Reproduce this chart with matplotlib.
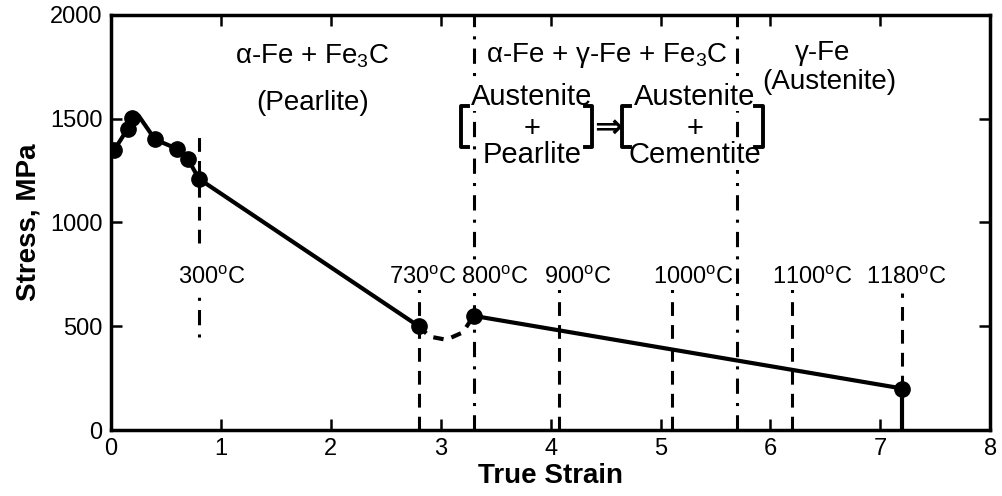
import numpy as np
import matplotlib.pyplot as plt

plt.rcParams['font.family'] = ['Liberation Sans', 'DejaVu Sans']
plt.rcParams['mathtext.fontset'] = 'custom'
plt.rcParams['mathtext.rm'] = 'Liberation Sans'
plt.rcParams['mathtext.it'] = 'Liberation Sans'

# measured points (markers)
strain_pts = [0.03, 0.15, 0.19, 0.40, 0.60, 0.70, 0.80, 2.80, 3.30, 7.20]
stress_pts = [1350, 1450, 1505, 1400, 1355, 1305, 1210, 500, 550, 200]

# solid curve through the low temperature part
strain_low = [0.03, 0.15, 0.20, 0.25, 0.40, 0.60, 0.70, 0.80, 2.80]
stress_low = [1350, 1450, 1505, 1515, 1400, 1355, 1305, 1210, 500]

# dashed dip between 730 and 800 C
strain_dip = [2.80, 2.90, 3.05, 3.20, 3.30]
stress_dip = [500, 450, 435, 470, 550]

# solid curve through the high temperature part
strain_high = [3.30, 7.20]
stress_high = [550, 200]

# temperature labels
temp_labels = ['300$^\\mathrm{o}$C', '730$^\\mathrm{o}$C', '800$^\\mathrm{o}$C', '900$^\\mathrm{o}$C',
               '1000$^\\mathrm{o}$C', '1100$^\\mathrm{o}$C', '1180$^\\mathrm{o}$C']
label_x = [0.92, 2.84, 3.49, 4.25, 5.30, 6.38, 7.24]

fig = plt.figure(figsize=(10.03, 4.96), dpi=100)
ax = fig.add_axes([0.1107, 0.133, 0.8766, 0.837])

lw = 3.0
ax.plot(strain_low, stress_low, color='black', lw=lw, solid_capstyle='round', zorder=3)
ax.plot(strain_dip, stress_dip, color='black', lw=lw, ls=(0, (2.5, 2.0)), zorder=3)
ax.plot(strain_high, stress_high, color='black', lw=lw, zorder=3)
ax.plot(strain_pts, stress_pts, 'o', color='black', ms=11, zorder=4)

dash = (0, (4.5, 3.0))
dashdot = (0, (5, 3, 1, 3))
vc = 'black'
vlw = 2.2
# 300 C
ax.plot([0.8, 0.8], [900, 1440], color=vc, lw=vlw, ls=dash)
ax.plot([0.8, 0.8], [450, 660], color=vc, lw=vlw, ls=(0, (1, 3, 5, 3)))
# 730, 900, 1000, 1100 C
for xv in [2.8, 4.08, 5.1, 6.2]:
    ax.plot([xv, xv], [0, 700], color=vc, lw=vlw, ls=dash)
# 800 C and 5.7 phase boundaries
for xv in [3.3, 5.7]:
    ax.plot([xv, xv], [0, 2000], color=vc, lw=vlw, ls=dashdot)
# 1180 C
ax.plot([7.2, 7.2], [200, 660], color=vc, lw=vlw, ls=dash)
ax.plot([7.2, 7.2], [0, 200], color=vc, lw=lw)

for lx, lab in zip(label_x, temp_labels):
    ax.text(lx, 733, lab, fontsize=17, ha='center', va='center',
            bbox=dict(facecolor='white', edgecolor='none', pad=0.5), zorder=5)

# phase region labels
ax.text(1.83, 1800, 'α-Fe + Fe$_\\mathrm{3}$C', fontsize=20, ha='center', va='center', zorder=5)
ax.text(1.83, 1576, '(Pearlite)', fontsize=20, ha='center', va='center', zorder=5)
ax.text(4.51, 1805, 'α-Fe + γ-Fe + Fe$_\\mathrm{3}$C', fontsize=20, ha='center', va='center', zorder=5,
        bbox=dict(facecolor='white', edgecolor='none', pad=0.5))
ax.text(6.47, 1817, 'γ-Fe', fontsize=20, ha='center', va='center', zorder=5)
ax.text(6.54, 1677, '(Austenite)', fontsize=20, ha='center', va='center', zorder=5)

for cx, word in [(3.83, 'Pearlite'), (5.31, 'Cementite')]:
    ax.text(cx, 1605, 'Austenite', fontsize=21, ha='center', va='center', zorder=5,
            bbox=dict(facecolor='white', edgecolor='none', pad=0.5))
    ax.text(cx, 1450, '+', fontsize=21, ha='center', va='center', zorder=5)
    ax.text(cx, 1325, word, fontsize=21, ha='center', va='center', zorder=5,
            bbox=dict(facecolor='white', edgecolor='none', pad=0.5))

for bl, br in [(3.18, 4.38), (4.65, 5.93)]:
    hook = 0.07
    ax.plot([bl + hook, bl, bl, bl + hook], [1560, 1560, 1365, 1365], color='black', lw=2.8, zorder=6)
    ax.plot([br - hook, br, br, br - hook], [1560, 1560, 1365, 1365], color='black', lw=2.8, zorder=6)
ax.text(4.52, 1460, '⇒', fontsize=24, fontweight='bold', ha='center', va='center',
        family=['DejaVu Sans'], zorder=6)

ax.set_xlim(0, 8)
ax.set_ylim(0, 2000)
ax.set_xticks(range(0, 9))
ax.set_yticks([0, 500, 1000, 1500, 2000])
ax.tick_params(direction='in', length=8, width=1.8, top=True, right=True,
               labelsize=17, pad=6)
for s in ax.spines.values():
    s.set_linewidth(2.5)

ax.set_xlabel('True Strain', fontsize=20, fontweight='bold', labelpad=2)
ax.set_ylabel('Stress, MPa', fontsize=20, fontweight='bold', labelpad=6)

plt.savefig('out.png', dpi=100)
